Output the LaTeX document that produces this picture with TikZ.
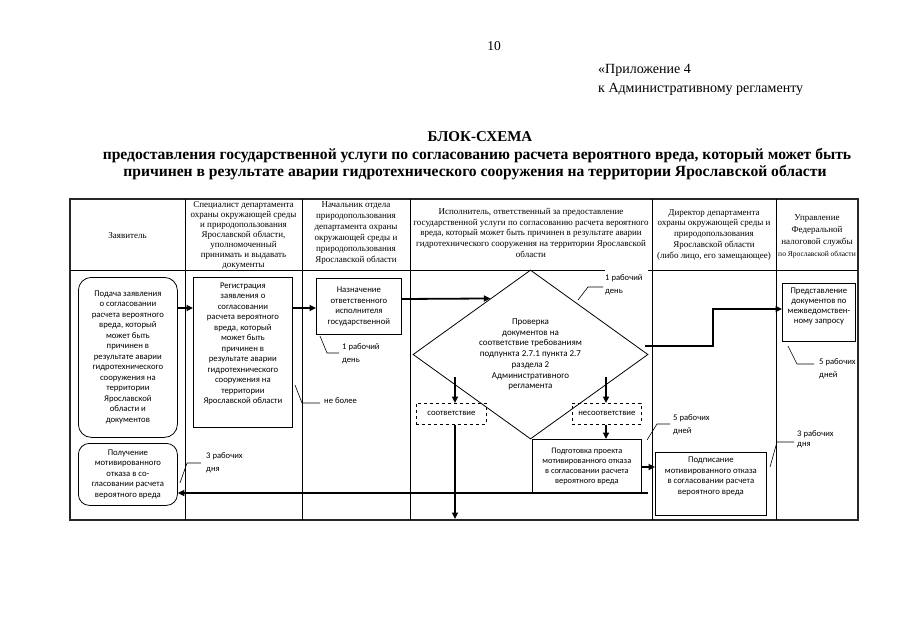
\documentclass[tikz,border=0pt]{standalone}
\usepackage{fontspec}
\setmainfont{Liberation Serif}
\newfontfamily\carl{Carlito}
\usetikzlibrary{shapes.geometric,arrows.meta,calc}
\begin{document}
\begin{tikzpicture}[x=1pt,y=-1pt,
 hdr/.style={font=\fontsize{9}{10}\selectfont, align=center, anchor=north, inner sep=0pt},
 bx/.style={draw, line width=0.8pt, align=center, inner sep=1pt, font=\carl\fontsize{8.7}{10.5}\selectfont},
 rbx/.style={bx, rounded corners=13pt},
 dbx/.style={bx, dashed},
 arr/.style={line width=1.8pt, -{Triangle[length=6.5pt,width=6pt]}},
 ldr/.style={line width=0.6pt},
 lbl/.style={font=\carl\fontsize{8.6}{13}\selectfont, align=left, anchor=north west, inner sep=0pt},
 tbl/.style={line width=0.8pt},
 ttl/.style={font=\fontsize{15.6}{17}\selectfont\bfseries, inner sep=0pt}
]
\fill[white] (0,0) rectangle (905,640);
\useasboundingbox (0,0) rectangle (905,640);

% page header
\node[font=\fontsize{13.5}{15}\selectfont, inner sep=0pt] (pg) at (494,46) {10};
\node[font=\fontsize{14}{15}\selectfont, inner sep=0pt, anchor=west] (ap1) at (598,70) {«Приложение 4};
\node[font=\fontsize{14}{15}\selectfont, inner sep=0pt, anchor=west] (ap2) at (598,89) {к Административному регламенту};

\node[ttl, font=\fontsize{15}{17}\selectfont\bfseries] (t0) at (480,137) {БЛОК-СХЕМА};
\node[ttl] (t1) at (477,156) {предоставления государственной услуги по согласованию расчета вероятного вреда, который может быть};
\node[ttl] (t2) at (475,173) {причинен в результате аварии гидротехнического сооружения на территории Ярославской области};

% table
\draw[line width=1.3pt, black!85] (70,199) rectangle (858,520);
\foreach \xx in {185,302,410,652,776} \draw[tbl] (\xx,199) -- (\xx,520);
\draw[tbl] (70,270) -- (605,270);
\draw[tbl] (648,270) -- (858,270);

% header texts
\node[hdr] (h1) at (127.5,232) {Заявитель};
\node[hdr] (h2) at (243.5,201.5) {Специалист департамента\\охраны окружающей среды\\и природопользования\\Ярославской области,\\уполномоченный\\принимать и выдавать\\документы};
\node[hdr, font=\fontsize{9}{11}\selectfont] (h3) at (356,201.5) {Начальник отдела\\природопользования\\департамента охраны\\окружающей среды и\\природопользования\\Ярославской области};
\node[hdr, font=\fontsize{9}{10.75}\selectfont] (h4) at (531,208) {Исполнитель, ответственный за предоставление\\государственной услуги по согласованию расчета вероятного\\вреда, который может быть причинен в результате аварии\\гидротехнического сооружения на территории Ярославской\\области};
\node[hdr, font=\fontsize{9}{10.75}\selectfont] (h5) at (714,209) {Директор департамента\\охраны окружающей среды и\\природопользования\\Ярославской области\\(либо лицо, его замещающее)};
\node[hdr, font=\fontsize{9}{12}\selectfont] (h6) at (817,214) {Управление\\Федеральной\\налоговой службы\\{\fontsize{7.5}{12}\selectfont по Ярославской области}};

% boxes
\node[rbx, minimum width=99pt, minimum height=160pt, anchor=north west] (b1) at (78,277) {Подача заявления\\о согласовании\\расчета вероятного\\вреда, который\\может быть\\причинен в\\результате аварии\\гидротехнического\\сооружения на\\территории\\Ярославской\\области и\\документов};
\node[rbx, minimum width=99pt, minimum height=62pt, anchor=north west, rounded corners=11pt] (b2) at (78,443) {Получение\\мотивированного\\отказа в со-\\гласовании расчета\\вероятного вреда};
\node[bx, minimum width=99pt, minimum height=150pt, anchor=north west] (reg) at (193,277) {Регистрация\\заявления о\\согласовании\\расчета вероятного\\вреда, который\\может быть\\причинен в\\результате аварии\\гидротехнического\\сооружения на\\территории\\Ярославской области\\[8pt]};
\node[bx, minimum width=85pt, minimum height=56pt, anchor=north west] (naz) at (316,278) {Назначение\\ответственного\\исполнителя\\государственной};
\node[draw, diamond, line width=0.8pt, minimum width=235pt, minimum height=169pt, inner sep=0pt] (d) at (530.5,354.5) {};
\node[align=center, inner sep=0pt, font=\carl\fontsize{9}{10.7}\selectfont] (dt) at (d.center) {Проверка\\документов на\\соответствие требованиям\\подпункта 2.7.1 пункта 2.7\\раздела 2\\Административного\\регламента};
\node[dbx, minimum width=70pt, minimum height=21pt, anchor=north west] (soot) at (416,403) {соответствие};
\node[dbx, minimum width=69pt, minimum height=21pt, anchor=north west] (nes) at (572,403) {несоответствие};
\node[bx, minimum width=109pt, minimum height=54pt, anchor=north west, font=\carl\fontsize{8.4}{10}\selectfont] (podg) at (532,439) {Подготовка проекта\\мотивированного отказа\\в согласовании расчета\\вероятного вреда};
\node[bx, minimum width=111pt, minimum height=63pt, anchor=north west] (podp) at (655,452) {Подписание\\мотивированного отказа\\в согласовании расчета\\вероятного вреда\\[6pt]};
\node[bx, minimum width=73pt, minimum height=58pt, anchor=north west, font=\carl\fontsize{8.7}{10}\selectfont] (prs) at (782,283) {Представление\\документов по\\межведомствен-\\ному запросу\\[4pt]};

% leaders and time labels
\node[lbl] (l1) at (324,397) {не более};
\draw[ldr] (295,385) -- (302,403) -- (320,403);
\node[lbl] (l2) at (342,343) {1 рабочий\\день};
\draw[ldr] (320,336) -- (327,353) -- (339,353);
\node[lbl] (l3) at (605,274) {1 рабочий\\день};
\draw[ldr] (578,300) -- (588,287) -- (603,287);
\node[lbl] (l4) at (819,358) {5 рабочих\\дней};
\draw[ldr] (788,346) -- (797,364) -- (814,364);
\node[lbl] (l5) at (673,414) {5 рабочих\\дней};
\draw[ldr] (647,440) -- (657,424) -- (670,424);
\node[lbl, font=\carl\fontsize{8.6}{10.5}\selectfont] (l6) at (797,430) {3 рабочих\\дня};
\draw[ldr] (770,467) -- (777,442) -- (794,442);
\node[lbl] (l7) at (206,452) {3 рабочих\\дня};
\draw[ldr] (180,483) -- (187,463) -- (201,463);

% connectors
\coordinate (y308) at (0,308);
\coordinate (y299) at (0,299);
\coordinate (y309) at (0,309);
\coordinate (y467) at (0,467);
\coordinate (dout) at (645,346);
\coordinate (dsl) at (455,377);
\coordinate (dsr) at (606,377);
\draw[arr] (b1.east |- y308) -- (reg.west |- y308);
\draw[arr] (reg.east |- y308) -- (naz.west |- y308);
\draw[arr] (naz.east |- y299) -- ($(d.north)!0.34!(d.west)$);
\draw[arr] (dout) -- ++(68,0) |- (prs.west |- y309);
\draw[arr] (dsl) -- (soot.north -| dsl);
\draw[arr] (dsr) -- (nes.north -| dsr);
\coordinate (bend) at (455,519);
\draw[arr] (soot.south -| bend) -- (bend);
\draw[arr] (nes.south -| dsr) -- (podg.north -| dsr);
\draw[arr] (podg.east |- y467) -- (podp.west |- y467);
\coordinate (lstart) at (648,493);
\draw[arr] (lstart) -- (b2.east |- lstart);
\end{tikzpicture}
\end{document}
